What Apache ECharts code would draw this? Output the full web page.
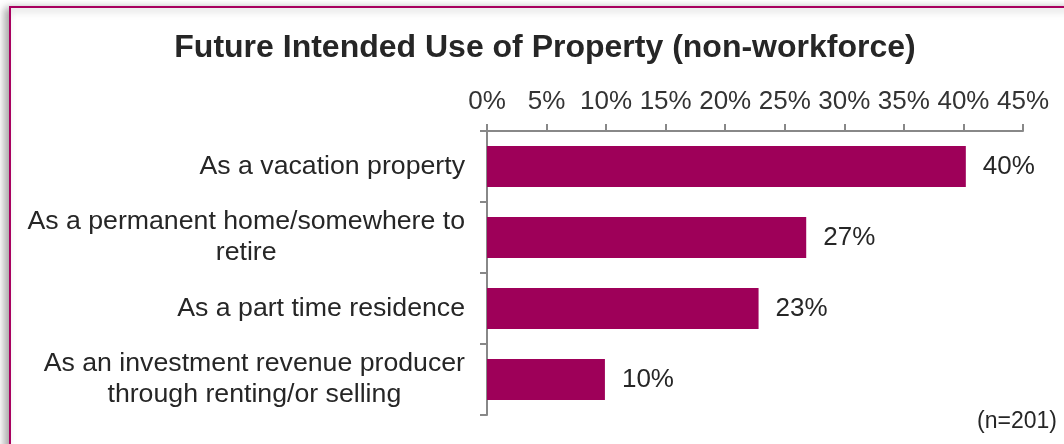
<!DOCTYPE html>
<html>
<head>
<meta charset="utf-8">
<script src="https://cdn.jsdelivr.net/npm/echarts@6/dist/echarts.min.js"></script>
<style>
  html, body { margin: 0; padding: 0; background: #ffffff; }
  #chart { width: 1064px; height: 444px; }
</style>
</head>
<body>
<div id="chart"></div>
<script>
// ---- data ----
const titleText = 'Future Intended Use of Property (non-workforce)';
const categories = [
  'As a vacation property',
  'As a permanent home/somewhere to\nretire',
  'As a part time residence',
  'As an investment revenue producer\nthrough renting/or selling'
];
const values = [40.2, 26.8, 22.8, 9.9];
const axisMin = 0;
const axisMax = 45;
const axisStep = 5;
const noteText = '(n=201)';

const FONT = '"Liberation Sans", Arial, sans-serif';
const BAR = '#9E0059';
const AXIS = '#888888';

const chart = echarts.init(document.getElementById('chart'), null, { renderer: 'canvas' });
chart.setOption({
  animation: false,
  backgroundColor: '#ffffff',
  textStyle: { fontFamily: FONT },
  graphic: [
    {
      type: 'rect', z: -10, silent: true,
      shape: { x: 10, y: 7, width: 1200, height: 600 },
      style: {
        fill: '#ffffff', stroke: '#A8005F', lineWidth: 2,
        shadowBlur: 8, shadowOffsetX: -4, shadowOffsetY: 2,
        shadowColor: 'rgba(0,0,0,0.35)'
      }
    },
    {
      type: 'text', right: 7, top: 410,
      style: { text: noteText, font: '23px ' + FONT, fill: '#262626' }
    }
  ],
  title: {
    text: titleText,
    left: 540, top: 27, textAlign: 'center',
    textStyle: { fontFamily: FONT, fontSize: 32, fontWeight: 'bold', color: '#262626' }
  },
  grid: { left: 487, right: 41, top: 131, bottom: 29, containLabel: false },
  xAxis: {
    type: 'value', position: 'top',
    min: axisMin, max: axisMax, interval: axisStep,
    axisLine: { show: true, lineStyle: { color: AXIS, width: 2 } },
    axisTick: { show: true, length: 7, lineStyle: { color: AXIS, width: 2 } },
    splitLine: { show: false },
    axisLabel: {
      margin: 16, color: '#333333', fontSize: 26, fontFamily: FONT,
      formatter: v => v + '%'
    }
  },
  yAxis: {
    type: 'category', inverse: true, data: categories,
    axisLine: { show: true, lineStyle: { color: AXIS, width: 2 } },
    axisTick: { show: true, length: 7, lineStyle: { color: AXIS, width: 2 } },
    axisLabel: {
      margin: 22, color: '#262626', fontSize: 26.7, fontFamily: FONT,
      lineHeight: 31,
      formatter: v => v.split('\n').map(s => '{c|' + s + '}').join('\n'),
      rich: { c: { align: 'center', fontSize: 26.7, fontFamily: FONT, color: '#262626', lineHeight: 31 } }
    }
  },
  series: [{
    type: 'bar', data: values, barWidth: 41,
    itemStyle: { color: BAR },
    label: {
      show: true, position: 'right', distance: 17,
      color: '#262626', fontSize: 26, fontFamily: FONT,
      formatter: p => Math.round(p.value) + '%'
    }
  }]
});
</script>
</body>
</html>
